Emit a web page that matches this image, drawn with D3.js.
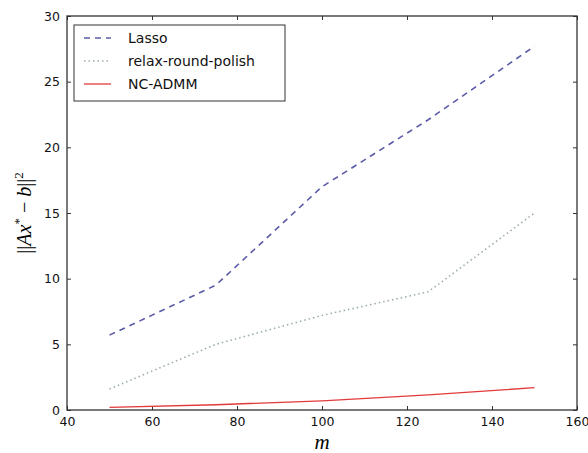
<!DOCTYPE html>
<html>
<head>
<meta charset="utf-8">
<script src="https://cdn.jsdelivr.net/npm/d3@7"></script>
<style>
body { margin: 0; background: #fff; }
</style>
</head>
<body>
<svg id="chart" width="588" height="453"></svg>
<script>
// data
var mValues = [50, 75, 100, 125, 150];
var lasso = [5.7, 9.5, 17.0, 22.1, 27.7];
var relaxRoundPolish = [1.6, 5.0, 7.2, 9.0, 15.0];
var ncAdmm = [0.2, 0.4, 0.7, 1.15, 1.7];
var xTicks = [40, 60, 80, 100, 120, 140, 160];
var yTicks = [0, 5, 10, 15, 20, 25, 30];

var series = [
	{name: "Lasso", values: lasso, color: "#5b5ba8", dash: "6,5", width: 1.6},
	{name: "relax-round-polish", values: relaxRoundPolish, color: "#9bb0a4", dash: "1.5,3", width: 1.6},
	{name: "NC-ADMM", values: ncAdmm, color: "#e23a3a", dash: null, width: 1.3}
];

var svg = d3.select("#chart");
var plotL = 67, plotR = 577, plotT = 16, plotB = 410;
var sans = "'DejaVu Sans', sans-serif";
var serif = "'Liberation Serif', 'DejaVu Serif', serif";

var x = d3.scaleLinear().domain([40, 160]).range([plotL, plotR]);
var y = d3.scaleLinear().domain([0, 30]).range([plotB, plotT]);

// axes, ticks inward on all sides
svg.append("g").attr("transform", "translate(0," + plotB + ")")
	.call(d3.axisBottom(x).tickValues(xTicks).tickSizeInner(-4).tickSizeOuter(0).tickPadding(7));
svg.append("g").attr("transform", "translate(0," + plotT + ")")
	.call(d3.axisTop(x).tickValues(xTicks).tickSizeInner(-4).tickSizeOuter(0).tickFormat(""));
svg.append("g").attr("transform", "translate(" + plotL + ",0)")
	.call(d3.axisLeft(y).tickValues(yTicks).tickSizeInner(-4).tickSizeOuter(0).tickPadding(7));
svg.append("g").attr("transform", "translate(" + plotR + ",0)")
	.call(d3.axisRight(y).tickValues(yTicks).tickSizeInner(-4).tickSizeOuter(0).tickFormat(""));

svg.selectAll(".domain").remove();
svg.selectAll(".tick line").attr("stroke", "#333");
svg.selectAll(".tick text").style("font-size", "12.5px").attr("fill", "#111")
	.style("font-family", sans);

svg.append("rect")
	.attr("x", plotL).attr("y", plotT)
	.attr("width", plotR - plotL).attr("height", plotB - plotT)
	.attr("fill", "none").attr("stroke", "#333").attr("stroke-width", 1.3);

// lines
var line = d3.line()
	.x(function(d, i) { return x(mValues[i]); })
	.y(function(d) { return y(d); });

svg.selectAll(".series")
	.data(series)
	.enter()
	.append("path")
	.attr("class", "series")
	.attr("d", function(s) { return line(s.values); })
	.attr("fill", "none")
	.attr("stroke", function(s) { return s.color; })
	.attr("stroke-width", function(s) { return s.width; })
	.attr("stroke-dasharray", function(s) { return s.dash; });

// legend
var legend = svg.append("g");
legend.append("rect")
	.attr("x", 74).attr("y", 25).attr("width", 211).attr("height", 76)
	.attr("fill", "#fff").attr("stroke", "#333").attr("stroke-width", 1);
var items = legend.selectAll(".item")
	.data(series)
	.enter()
	.append("g")
	.attr("transform", function(s, i) { return "translate(0," + (38 + i * 23) + ")"; });
items.append("line")
	.attr("x1", 84).attr("x2", 111)
	.attr("stroke", function(s) { return s.color; })
	.attr("stroke-width", function(s) { return s.width; })
	.attr("stroke-dasharray", function(s) { return s.dash; });
items.append("text")
	.attr("x", 128).attr("dy", "0.35em")
	.style("font-size", "14px").style("font-family", sans).attr("fill", "#111")
	.text(function(s) { return s.name; });

// axis labels
svg.append("text")
	.attr("x", (plotL + plotR) / 2).attr("y", 449)
	.attr("text-anchor", "middle")
	.style("font-family", serif).style("font-style", "italic")
	.style("font-size", "21px")
	.text("m");

var yl = svg.append("text")
	.attr("transform", "translate(31," + ((plotT + plotB) / 2) + ") rotate(-90)")
	.attr("text-anchor", "middle")
	.style("font-family", serif)
	.style("font-size", "20px");
yl.append("tspan").text("||");
yl.append("tspan").style("font-style", "italic").text("Ax");
yl.append("tspan").style("font-size", "13px").attr("dy", -8).text("*");
yl.append("tspan").attr("dy", 8).text(" − ");
yl.append("tspan").style("font-style", "italic").text("b");
yl.append("tspan").text("||");
yl.append("tspan").style("font-size", "13px").attr("dy", -8).text("2");
</script>
</body>
</html>
